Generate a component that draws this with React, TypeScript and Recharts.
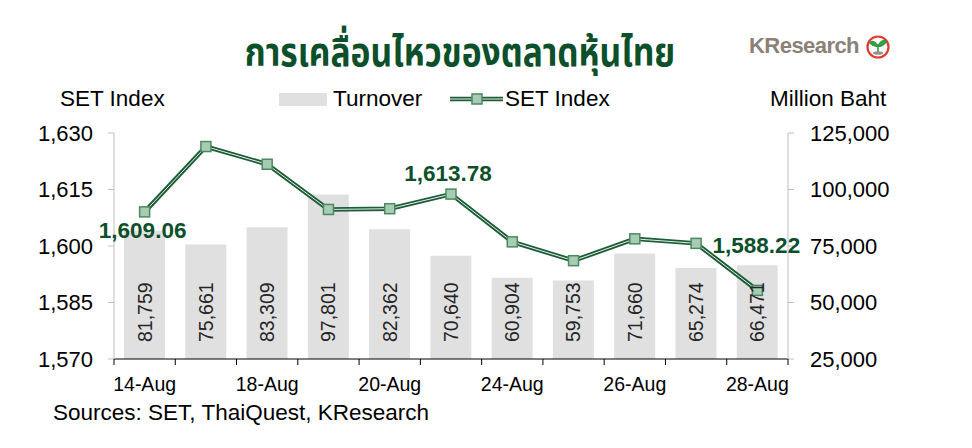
import React from 'react';
import { ComposedChart, Bar, Line, XAxis, YAxis, LabelList } from 'recharts';

// trading days shown on the chart
const dates = ['14-Aug', '17-Aug', '18-Aug', '19-Aug', '20-Aug', '21-Aug', '24-Aug', '25-Aug', '26-Aug', '27-Aug', '28-Aug'];
const shownDates = ['14-Aug', '18-Aug', '20-Aug', '24-Aug', '26-Aug', '28-Aug'];

// turnover, million baht
const turnover = [81759, 75661, 83309, 97801, 82362, 70640, 60904, 59753, 71660, 65274, 66471];

// SET index close
const setIndex = [1609.06, 1626.4, 1621.7, 1609.7, 1609.9, 1613.78, 1601.1, 1596.1, 1601.9, 1600.7, 1588.22];
const labelledPoints = [0, 5, 10];

const leftTicks = [1570, 1585, 1600, 1615, 1630];
const rightTicks = [25000, 50000, 75000, 100000, 125000];

const data = dates.map((date, i) => ({ date, turnover: turnover[i], set: setIndex[i] }));

const FONT = '"Liberation Sans", Arial, sans-serif';
const GREEN = '#0b4f2b';
const PLOT_LEFT = 114;
const PLOT_RIGHT = 788;
const BAND = (PLOT_RIGHT - PLOT_LEFT) / dates.length;

const fmt = (v: number) => v.toLocaleString('en-US');

function XTick(props: any) {
  const { x, y, payload, index } = props;
  const i = payload?.index ?? index;
  return (
    <g>
      <line x1={x - BAND / 2} y1={y} x2={x - BAND / 2} y2={y + 6} stroke="#000" />
      {i === dates.length - 1 && <line x1={x + BAND / 2} y1={y} x2={x + BAND / 2} y2={y + 6} stroke="#000" />}
      {shownDates.includes(payload.value) && (
        <text x={x} y={y + 32} textAnchor="middle" fontSize={19.5} fill="#000" fontFamily={FONT}>
          {payload.value}
        </text>
      )}
    </g>
  );
}

function BarValue(props: any) {
  const { x, y, width, height, value } = props;
  const cx = x + width / 2;
  const by = y + height - 17;
  return (
    <text
      x={cx}
      y={by}
      transform={`rotate(-90 ${cx} ${by})`}
      textAnchor="start"
      dominantBaseline="central"
      fontSize={19.5}
      fill="#262626"
      fontFamily={FONT}
    >
      {fmt(value)}
    </text>
  );
}

const labelOffset: Record<number, [number, number]> = {
  0: [-2, 26],
  5: [-3, -13],
  10: [-1, -37],
};

function PointLabel(props: any) {
  const { x, y, value, index } = props;
  if (!labelledPoints.includes(index)) return null;
  const [dx, dy] = labelOffset[index] || [0, -12];
  return (
    <text
      x={x + dx}
      y={y + dy}
      textAnchor="middle"
      fontSize={22.5}
      fontWeight="bold"
      fill={GREEN}
      fontFamily={FONT}
    >
      {value.toLocaleString('en-US', { minimumFractionDigits: 2, maximumFractionDigits: 2 })}
    </text>
  );
}

function SquareDot(props: any) {
  const { cx, cy, index } = props;
  return <rect key={`d${index}`} x={cx - 5} y={cy - 5} width={10} height={10} fill="#a7ccb3" stroke="#4b8a60" strokeWidth={1.5} />;
}

function Logo() {
  return (
    <svg width={150} height={34} style={{ position: 'absolute', left: 746, top: 31 }}>
      <text x={3} y={22} fontSize={22} fontWeight="bold" fill="#8b8178" fontFamily={FONT} letterSpacing={-0.6} textLength={110} lengthAdjust="spacingAndGlyphs">
        KResearch
      </text>
      <circle cx={132} cy={16} r={10.5} fill="#fff" stroke="#e0382b" strokeWidth={2.2} />
      <path d="M132 22 L132 14 M132 15 Q127 8 124 12 Q128 16 132 15 M132 15 Q137 7 140 11 Q136 16 132 15" stroke="#2f9a3e" strokeWidth={1.6} fill="#3aa84a" />
      <ellipse cx={132} cy={22} rx={5} ry={1.8} fill="#9a9088" />
    </svg>
  );
}

export default function App() {
  return (
    <div style={{ position: 'absolute', left: 0, top: 0, width: 972, height: 448, background: '#fff', fontFamily: FONT }}>
      <div
        style={{
          position: 'absolute',
          left: 0,
          width: 920,
          top: 31,
          textAlign: 'center',
          fontSize: 39,
          fontWeight: 'bold',
          color: GREEN,
          fontFamily: '"Noto Sans Thai", "Noto Sans", "DejaVu Sans", sans-serif',
          lineHeight: '48px',
          transform: 'scaleX(0.86)',
          transformOrigin: '460px 0',
        }}
      >
        การเคลื่อนไหวของตลาดหุ้นไทย
      </div>
      <Logo />
      <div style={{ position: 'absolute', left: 60, top: 86, fontSize: 22.5, lineHeight: '26px' }}>SET Index</div>
      <div style={{ position: 'absolute', left: 770, top: 86, fontSize: 22.5, lineHeight: '26px' }}>Million Baht</div>
      <div style={{ position: 'absolute', left: 279, top: 93, width: 48, height: 13, background: '#e0e0e0' }} />
      <div style={{ position: 'absolute', left: 333, top: 86, fontSize: 22.5, lineHeight: '26px' }}>Turnover</div>
      <svg width={56} height={20} style={{ position: 'absolute', left: 449, top: 89 }}>
        <line x1={1} y1={10} x2={54} y2={10} stroke="#1d5c37" strokeWidth={4.5} />
        <line x1={1} y1={10} x2={54} y2={10} stroke="#e3efe7" strokeWidth={1} />
        <rect x={23} y={5} width={10} height={10} fill="#a7ccb3" stroke="#4b8a60" strokeWidth={1.5} />
      </svg>
      <div style={{ position: 'absolute', left: 505, top: 86, fontSize: 22.5, lineHeight: '26px' }}>SET Index</div>

      <div style={{ position: 'absolute', left: 0, top: 0 }}>
        <ComposedChart
          width={972}
          height={448}
          data={data}
          margin={{ top: 133, right: 94, bottom: 59, left: 54 }}
          barSize={41}
          style={{ fontFamily: FONT }}
        >
          <XAxis
            dataKey="date"
            interval={0}
            tickLine={false}
            tickSize={0}
            tickMargin={0}
            height={30}
            axisLine={{ stroke: '#000' }}
            tick={(p: any) => <XTick {...p} />}
          />
          <YAxis
            yAxisId="left"
            domain={[1570, 1630]}
            ticks={leftTicks}
            width={60}
            tickSize={6}
            tickMargin={15}
            axisLine={{ stroke: '#bfbfbf' }}
            tickLine={{ stroke: '#bfbfbf' }}
            tick={{ fontSize: 22, fill: '#000' }}
            tickFormatter={fmt}
          />
          <YAxis
            yAxisId="right"
            orientation="right"
            domain={[25000, 125000]}
            ticks={rightTicks}
            width={90}
            tickSize={6}
            tickMargin={16}
            axisLine={{ stroke: '#bfbfbf' }}
            tickLine={{ stroke: '#bfbfbf' }}
            tick={{ fontSize: 22, fill: '#000', textAnchor: 'start' }}
            tickFormatter={fmt}
          />
          <Bar yAxisId="right" dataKey="turnover" fill="#e0e0e0" isAnimationActive={false}>
            <LabelList dataKey="turnover" content={(p: any) => <BarValue {...p} />} />
          </Bar>
          <Line
            yAxisId="left"
            dataKey="set"
            stroke="#1d5c37"
            strokeWidth={4.5}
            dot={false}
            activeDot={false}
            isAnimationActive={false}
          />
          <Line
            yAxisId="left"
            dataKey="set"
            stroke="#e3efe7"
            strokeWidth={1}
            dot={(p: any) => <SquareDot {...p} />}
            activeDot={false}
            isAnimationActive={false}
          >
            <LabelList dataKey="set" content={(p: any) => <PointLabel {...p} />} />
          </Line>
        </ComposedChart>
      </div>
      <div style={{ position: 'absolute', left: 53, top: 400, fontSize: 22.5, lineHeight: '26px' }}>
        Sources: SET, ThaiQuest, KResearch
      </div>
    </div>
  );
}
